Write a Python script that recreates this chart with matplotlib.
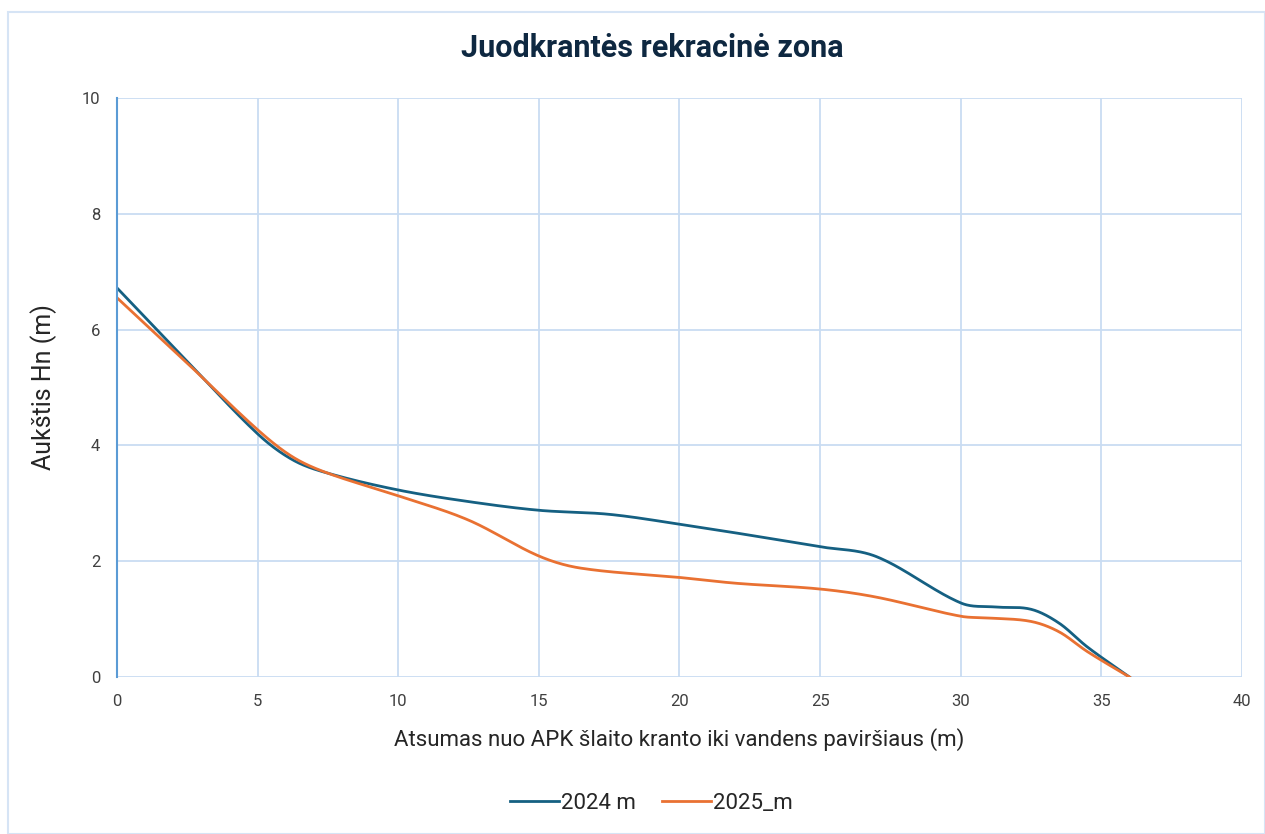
import numpy as np
import matplotlib.pyplot as plt
from matplotlib.patches import Rectangle

x_2024 = [0, 2.5, 5, 6.25, 7.5, 10, 12.5, 15, 17.5, 20, 22.5, 25, 27, 30, 31.2, 32.5, 33.5, 34.5, 36]
y_2024 = [6.72, 5.45, 4.2, 3.75, 3.52, 3.23, 3.03, 2.88, 2.81, 2.64, 2.45, 2.25, 2.08, 1.28, 1.21,
          1.17, 0.93, 0.52, 0]

x_2025 = [0, 2.5, 5, 6.25, 7.5, 10, 12.5, 15, 16.5, 20, 22, 25, 27, 30, 31, 32.5, 33.5, 34.5, 36]
y_2025 = [6.55, 5.42, 4.27, 3.80, 3.52, 3.13, 2.71, 2.09, 1.88, 1.72, 1.62, 1.52, 1.38, 1.05,
          1.02, 0.96, 0.78, 0.44, 0]


def smooth(xs, ys, n=40):
    # cubic hermite with finite-difference tangents, like excel "smoothed line"
    xs = np.asarray(xs, float)
    ys = np.asarray(ys, float)
    m = np.gradient(ys, xs)
    m[1:-1] = (ys[2:] - ys[:-2]) / (xs[2:] - xs[:-2])
    px, py = [], []
    for i in range(len(xs) - 1):
        h = xs[i + 1] - xs[i]
        t = np.linspace(0, 1, n)
        h00 = 2 * t**3 - 3 * t**2 + 1
        h10 = t**3 - 2 * t**2 + t
        h01 = -2 * t**3 + 3 * t**2
        h11 = t**3 - t**2
        px.append(xs[i] + t * h)
        py.append(h00 * ys[i] + h10 * h * m[i] + h01 * ys[i + 1] + h11 * h * m[i + 1])
    return np.concatenate(px), np.concatenate(py)


plt.rcParams['font.family'] = ['Roboto', 'DejaVu Sans']

fig = plt.figure(figsize=(12.65, 8.34), dpi=100)
fig.patches.append(Rectangle((0.006, 0.0), 0.994, 0.986, transform=fig.transFigure,
                             fill=False, edgecolor='#d6e4f5', linewidth=1.5))
ax = fig.add_axes([0.0925, 0.1882, 0.8893, 0.6943])

sx, sy = smooth(x_2024, y_2024)
ax.plot(sx, sy, color='#156082', linewidth=2, label='2024 m')
sx, sy = smooth(x_2025, y_2025)
ax.plot(sx, sy, color='#e97132', linewidth=2, label='2025_m')

ax.set_xlim(0, 40)
ax.set_ylim(0, 10)
ax.set_xticks(range(0, 41, 5))
ax.set_yticks(range(0, 11, 2))
ax.grid(True, color='#c9dcf2', linewidth=1.3)
ax.set_axisbelow(True)
for s in ['top', 'right', 'bottom']:
    ax.spines[s].set_visible(False)
ax.spines['left'].set_color('#5b9bd5')
ax.spines['left'].set_linewidth(1.5)
ax.tick_params(length=0, labelsize=12, colors='#404040', pad=12)

ax.set_xlabel('Atsumas nuo APK šlaito kranto iki vandens paviršiaus (m)', fontsize=16,
              color='#262626', labelpad=14)
ax.set_ylabel('Aukštis Hn (m)', fontsize=18, color='#262626', labelpad=18)
fig.text(0.5155, 0.942, 'Juodkrantės rekracinė zona', ha='center', va='center',
         fontsize=22, fontweight='bold', color='#0e2841')

fig.legend(loc='center', bbox_to_anchor=(0.515, 0.037), ncol=2, frameon=False,
           fontsize=16, handlelength=2.2, handletextpad=0.1, columnspacing=1.2,
           labelcolor='#262626')

fig.savefig('out.png', dpi=100)
